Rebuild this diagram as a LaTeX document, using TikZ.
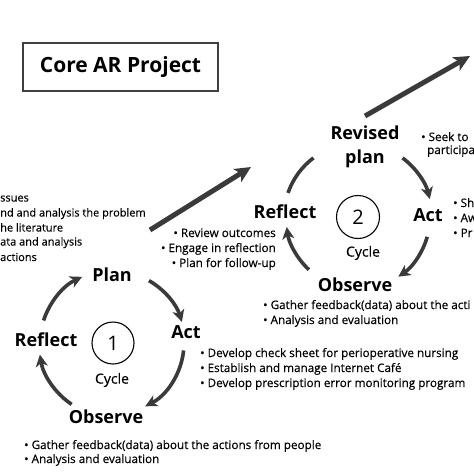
\documentclass[tikz,border=0pt]{standalone}
\usepackage{fontspec}
\setmainfont{Open Sans}
\newfontfamily\bulfont[FakeBold=0.3]{Open Sans}
\usetikzlibrary{arrows.meta}
\definecolor{arrowgray}{HTML}{3A3A3A}
\definecolor{boxgray}{HTML}{404040}
\begin{document}
\begin{tikzpicture}[x=1pt,y=-1pt,
  lbl/.style={font=\fontsize{18}{20}\selectfont\bfseries, inner sep=0, text=black},
  bt/.style={font=\bulfont\fontsize{11.7}{13}\selectfont, inner sep=0, anchor=base west},
  btn/.style={font=\bulfont\fontsize{11}{13}\selectfont, inner sep=0, anchor=base west},
  btr/.style={bt, anchor=base east},
  cycnum/.style={draw=black, circle, line width=1.1pt, minimum size=42pt, inner sep=0, font=\fontsize{20}{22}\selectfont},
  cyclbl/.style={font=\bulfont\fontsize{14}{16}\selectfont, inner sep=0},
  cycarrow/.style={draw=arrowgray, line width=3.6pt, -{Stealth[length=12pt,width=12pt,inset=3.5pt]}},
  cycarc/.style={draw=arrowgray, line width=3.6pt},
  bigarrow/.style={draw=arrowgray, line width=5pt, -{Stealth[length=16pt,width=15pt,inset=4pt]}},
  titlebox/.style={draw=boxgray, line width=2pt, minimum width=195pt, minimum height=48pt, inner sep=0, font=\fontsize{21}{24}\selectfont\bfseries}
]
\useasboundingbox (0,0) rectangle (474,474);
\clip (0,0) rectangle (474,474);
\fill[white] (0,0) rectangle (474,474);

% title
\node[titlebox] (title) at (120.5,67) {Core AR Project};

% left cropped text
\node[btn] (l1) at (0,201.5) {ssues};
\node[btn] (l2) at (0,216.5) {nd and analysis the problem};
\node[btn] (l3) at (0,231.5) {he literature};
\node[btn] (l4) at (0,245.5) {ata and analysis};
\node[btn] (l5) at (0,261) {actions};

% ---------- cycle 1 ----------
\coordinate (c1) at (113,343);
\node[lbl] (plan1) at (112,275) {Plan};
\node[lbl] (act1) at (186,332) {Act};
\node[lbl] (obs1) at (106,417) {Observe};
\node[lbl] (ref1) at (46,340) {Reflect};
\node[cycnum] (num1) at (113,343) {1};
\node[cyclbl] (cyc1) at (112,380) {Cycle};

\draw[cycarrow] (c1) ++(-60:72) arc[start angle=-60, end angle=-17, radius=72];
\draw[cycarrow] (c1) ++(6:71) arc[start angle=6, end angle=63, radius=71];
\draw[cycarrow] (c1) ++(124:74) arc[start angle=124, end angle=171, radius=74];
\draw[cycarrow] (c1) ++(198:73) arc[start angle=198, end angle=245, radius=73];

% cycle 1 texts
\node[btr] (r1a) at (276,237) {• Review outcomes};
\node[btr] (r1b) at (276,252) {• Engage in reflection};
\node[btr] (r1c) at (276,267) {• Plan for follow-up};

\node[bt] (a1a) at (200,357) {• Develop check sheet for perioperative nursing};
\node[bt] (a1b) at (200,372) {• Establish and manage Internet Café};
\node[bt] (a1c) at (200,387) {• Develop prescription error monitoring program};

\node[bt] (o1a) at (24,449) {• Gather feedback(data) about the actions from people};
\node[bt] (o1b) at (24,463) {• Analysis and evaluation};

% ---------- cycle 2 ----------
\coordinate (c2) at (358,217);
\node[lbl, align=center, font=\fontsize{18}{24}\selectfont\bfseries] (plan2) at (365,147) {Revised\\plan};
\node[lbl] (act2) at (428,215) {Act};
\node[lbl] (obs2) at (355,285) {Observe};
\node[lbl] (ref2) at (285,212) {Reflect};
\node[cycnum, minimum size=43pt] (num2) at (358,217) {2};
\node[cyclbl] (cyc2) at (363,253) {Cycle};

\draw[cycarrow] (c2) ++(-53:74) arc[start angle=-53, end angle=-14, radius=74];
\draw[cycarrow] (c2) ++(16:72) arc[start angle=16, end angle=56, radius=72];
\draw[cycarrow] (c2) ++(133:72) arc[start angle=133, end angle=172, radius=72];
\draw[cycarc] (c2) ++(199:74) arc[start angle=199, end angle=233, radius=74];

% cycle 2 texts
\node[bt] (p2a) at (421,141) {• Seek to};
\node[bt] (p2b) at (427,154) {participa};
\node[bt] (a2a) at (453,207) {• Sh};
\node[bt] (a2b) at (453,222) {• Aw};
\node[bt] (a2c) at (453,237) {• Pr};
\node[bt] (o2a) at (263,309) {• Gather feedback(data) about the acti};
\node[bt] (o2b) at (263,324) {• Analysis and evaluation};

% ---------- big arrows ----------
\coordinate (b1s) at (150,230);
\coordinate (b1e) at (251,167);
\coordinate (b2s) at (365,116);
\coordinate (b2e) at (470,56);
\draw[bigarrow] (b1s) -- (b1e);
\draw[bigarrow] (b2s) -- (b2e);
\end{tikzpicture}
\end{document}
